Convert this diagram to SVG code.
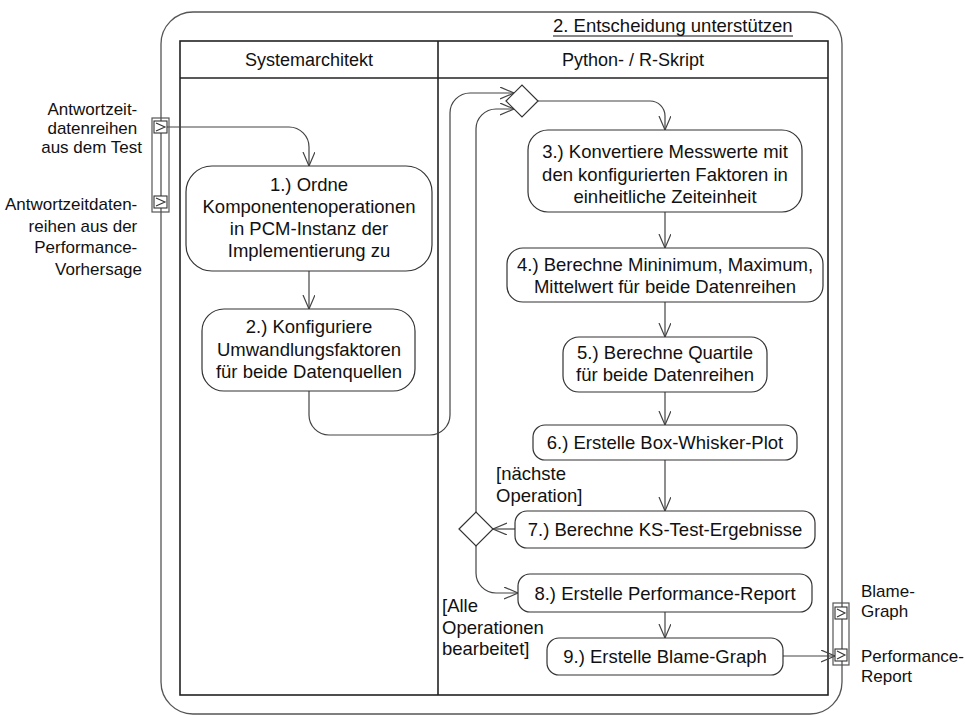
<svg xmlns="http://www.w3.org/2000/svg" width="965" height="715" viewBox="0 0 965 715">
  <style>
    text { font-family: "Liberation Sans", Arial, sans-serif; fill: #111; }
    .t { font-size: 18.5px; text-anchor: middle; }
    .g { font-size: 18.5px; }
    .lbl { font-size: 17px; }
    .frame { fill: none; stroke: #555; stroke-width: 1.3; }
    .lane { fill: none; stroke: #222; stroke-width: 1.6; }
    .node { fill: #fff; stroke: #333; stroke-width: 1.2; }
    .dec { fill: #fff; stroke: #333; stroke-width: 1.2; }
    .edge { fill: none; stroke: #444; stroke-width: 1.2; marker-end: url(#arr); }
    .pinbox { fill: none; stroke: #555; stroke-width: 1.2; }
    .pin { fill: #fff; stroke: #333; stroke-width: 1.1; }
    .chev { fill: none; stroke: #333; stroke-width: 1.1; }
  </style>
  <defs>
    <marker id="arr" markerUnits="userSpaceOnUse" markerWidth="16" markerHeight="14" refX="14" refY="6" orient="auto">
      <path d="M0,0 L14,6 L0,12" fill="none" stroke="#444" stroke-width="1.2"/>
    </marker>
  </defs>

  <rect width="965" height="715" fill="#fff"/>

  <!-- activity frame -->
  <rect class="frame" x="161" y="12" width="681" height="702" rx="32" ry="32"/>
  <text class="g" x="553" y="32">2. Entscheidung unterstützen</text>
  <line x1="553" y1="36" x2="793" y2="36" stroke="#111" stroke-width="1.1"/>

  <!-- swimlanes -->
  <g id="lanes">
    <rect class="lane" x="180" y="41" width="648" height="654"/>
    <line class="lane" x1="180" y1="78" x2="828" y2="78"/>
    <line class="lane" x1="438" y1="41" x2="438" y2="695"/>
    <text class="t" x="309" y="66" style="font-size:18px">Systemarchitekt</text>
    <text class="t" x="633" y="66" style="font-size:18px">Python- / R-Skript</text>
  </g>

  <!-- connectors -->
  <g id="edges">
    <path class="edge" d="M167 127 H289 A20 20 0 0 1 309 147 V166"/>
    <path class="edge" d="M309 271 V309"/>
    <path class="edge" d="M309 391 V415 A20 20 0 0 0 329 435 H430 A20 20 0 0 0 450 415 V113 A20 20 0 0 1 470 93 H514"/>
    <path class="edge" d="M476 512 V129 A20 20 0 0 1 496 109 H514"/>
    <path class="edge" d="M538 101 H650 A15 15 0 0 1 665 116 V130"/>
    <path class="edge" d="M665 212 V248"/>
    <path class="edge" d="M665 302 V337"/>
    <path class="edge" d="M665 392 V425"/>
    <path class="edge" d="M665 460 V511"/>
    <path class="edge" d="M515 529 H493"/>
    <path class="edge" d="M476 546 V573 A20 20 0 0 0 496 593 H518"/>
    <path class="edge" d="M665 612 V638"/>
    <path class="edge" d="M783 656 H835"/>
  </g>

  <!-- input parameters -->
  <g id="in-params">
    <rect class="pinbox" x="152" y="118" width="17" height="94"/>
    <rect class="pin" x="154" y="121" width="13" height="12"/>
    <polyline class="chev" points="156,123 165,127 156,131"/>
    <rect class="pin" x="154" y="196" width="13" height="12"/>
    <polyline class="chev" points="156,198 165,202 156,206"/>
    <text class="lbl" text-anchor="end">
      <tspan x="142" y="115">Antwortzeit-</tspan>
      <tspan x="142" y="134">datenreihen</tspan>
      <tspan x="142" y="153">aus dem Test</tspan>
    </text>
    <text class="lbl" text-anchor="end">
      <tspan x="142" y="210">Antwortzeitdaten-</tspan>
      <tspan x="142" y="231.5">reihen aus der</tspan>
      <tspan x="142" y="253">Performance-</tspan>
      <tspan x="142" y="274.5">Vorhersage</tspan>
    </text>
  </g>

  <!-- output parameters -->
  <g id="out-params">
    <rect class="pinbox" x="833" y="603" width="16" height="62"/>
    <rect class="pin" x="835" y="607" width="12" height="12"/>
    <polyline class="chev" points="837,609 845,613 837,617"/>
    <rect class="pin" x="835" y="649" width="12" height="12"/>
    <polyline class="chev" points="837,651 845,655 837,659"/>
    <text class="lbl">
      <tspan x="861" y="597">Blame-</tspan>
      <tspan x="861" y="617">Graph</tspan>
    </text>
    <text class="lbl">
      <tspan x="861" y="662">Performance-</tspan>
      <tspan x="861" y="682">Report</tspan>
    </text>
  </g>

  <!-- actions -->
  <g id="n1">
    <rect class="node" x="186" y="166" width="246" height="105" rx="26"/>
    <text class="t"><tspan x="309" y="191">1.) Ordne</tspan><tspan x="309" y="213">Komponentenoperationen</tspan><tspan x="309" y="235">in PCM-Instanz der</tspan><tspan x="309" y="257">Implementierung zu</tspan></text>
  </g>
  <g id="n2">
    <rect class="node" x="202" y="309" width="213" height="82" rx="22"/>
    <text class="t"><tspan x="309" y="333">2.) Konfiguriere</tspan><tspan x="309" y="356">Umwandlungsfaktoren</tspan><tspan x="309" y="378">für beide Datenquellen</tspan></text>
  </g>
  <g id="merge">
    <polygon class="dec" points="506,101 522,85 538,101 522,117"/>
  </g>
  <g id="n3">
    <rect class="node" x="528" y="130" width="274" height="82" rx="20"/>
    <text class="t"><tspan x="665" y="158">3.) Konvertiere Messwerte mit</tspan><tspan x="665" y="180.5">den konfigurierten Faktoren in</tspan><tspan x="665" y="203">einheitliche Zeiteinheit</tspan></text>
  </g>
  <g id="n4">
    <rect class="node" x="507" y="248" width="316" height="54" rx="16"/>
    <text class="t"><tspan x="665" y="270.5">4.) Berechne Mininimum, Maximum,</tspan><tspan x="665" y="293">Mittelwert für beide Datenreihen</tspan></text>
  </g>
  <g id="n5">
    <rect class="node" x="563" y="337" width="204" height="55" rx="16"/>
    <text class="t"><tspan x="665" y="358.5">5.) Berechne Quartile</tspan><tspan x="665" y="381">für beide Datenreihen</tspan></text>
  </g>
  <g id="n6">
    <rect class="node" x="533" y="425" width="264" height="35" rx="12"/>
    <text class="t" x="665" y="449">6.) Erstelle Box-Whisker-Plot</text>
  </g>
  <g id="n7">
    <rect class="node" x="515" y="511" width="300" height="37" rx="12"/>
    <text class="t" x="665" y="536">7.) Berechne KS-Test-Ergebnisse</text>
  </g>
  <g id="decision">
    <polygon class="dec" points="459,529 476,512 493,529 476,546"/>
    <text class="g"><tspan x="496" y="480">[nächste</tspan><tspan x="496" y="502">Operation]</tspan></text>
    <text class="g"><tspan x="442" y="612">[Alle</tspan><tspan x="442" y="633.5">Operationen</tspan><tspan x="442" y="655">bearbeitet]</tspan></text>
  </g>
  <g id="n8">
    <rect class="node" x="518" y="574" width="294" height="38" rx="12"/>
    <text class="t" x="665" y="599.5">8.) Erstelle Performance-Report</text>
  </g>
  <g id="n9">
    <rect class="node" x="547" y="638" width="236" height="37" rx="12"/>
    <text class="t" x="665" y="663">9.) Erstelle Blame-Graph</text>
  </g>
</svg>
